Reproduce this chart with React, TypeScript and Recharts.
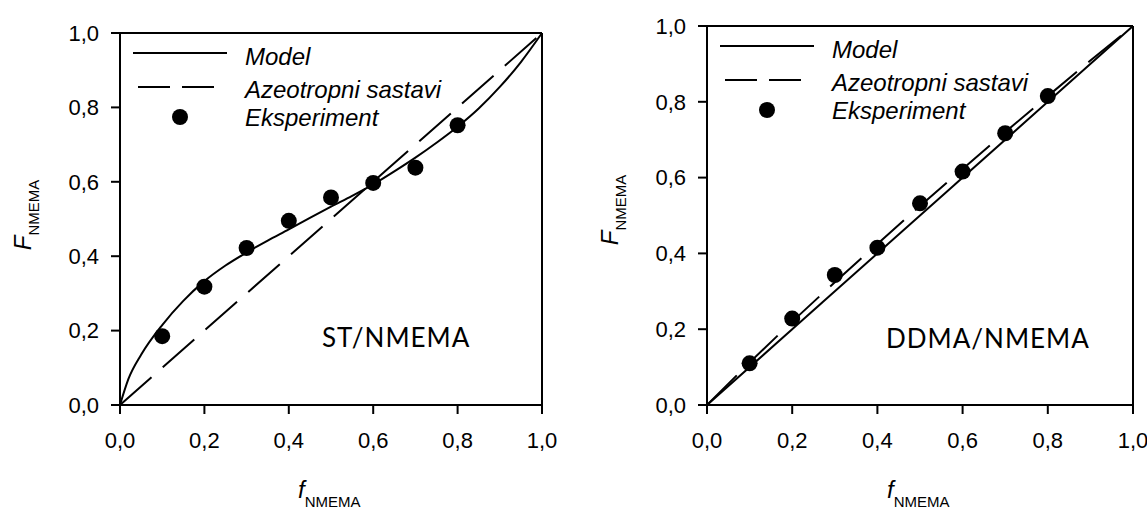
import { ComposedChart, Line, ReferenceLine, Scatter, XAxis, YAxis } from 'recharts'

const axisTicks = [0, 0.2, 0.4, 0.6, 0.8, 1]

// ST/NMEMA panel
const stExpX = [0.1, 0.2, 0.3, 0.4, 0.5, 0.6, 0.7, 0.8]
const stExpY = [0.185, 0.318, 0.422, 0.495, 0.558, 0.597, 0.638, 0.752]
const stModelX = [0, 0.02, 0.05, 0.1, 0.15, 0.2, 0.25, 0.3, 0.35, 0.4, 0.45, 0.5, 0.55, 0.6, 0.65, 0.7, 0.75, 0.8, 0.85, 0.9, 0.95, 1]
const stModelY = [0, 0.07, 0.135, 0.215, 0.28, 0.333, 0.375, 0.41, 0.442, 0.472, 0.503, 0.533, 0.562, 0.593, 0.628, 0.665, 0.705, 0.748, 0.797, 0.855, 0.922, 1]
const stAzeoX = [0, 1]
const stAzeoY = [0, 1]

// DDMA/NMEMA panel
const ddExpX = [0.1, 0.2, 0.3, 0.4, 0.5, 0.6, 0.7, 0.8]
const ddExpY = [0.11, 0.228, 0.343, 0.415, 0.532, 0.616, 0.717, 0.815]
const ddModelX = [0, 0.5, 1]
const ddModelY = [0, 0.5, 1]
const ddAzeoX = [0, 0.1, 0.2, 0.3, 0.4, 0.5, 0.6, 0.7, 0.8, 0.9, 1]
const ddAzeoY = [0, 0.112, 0.22, 0.324, 0.425, 0.525, 0.623, 0.72, 0.815, 0.909, 1]

const legendLabels = ['Model', 'Azeotropni sastavi', 'Eksperiment']

const zip = (xs: number[], ys: number[]) => xs.map((x, i) => ({ x, y: ys[i] }))
const fmt = (v: number) => v.toFixed(1).replace('.', ',')

const tickStyle = { fill: '#000', fontSize: 22, fontFamily: 'Liberation Sans, Arial, sans-serif' }

type PanelProps = {
  left: number
  width: number
  top: number
  right: number
  yAxisWidth: number
  model: { x: number; y: number }[]
  azeo: { x: number; y: number }[]
  exp: { x: number; y: number }[]
}

function Panel({ left, width, top, right, yAxisWidth, model, azeo, exp }: PanelProps) {
  return (
    <div style={{ position: 'absolute', left, top: 0, width, height: 509 }}>
      <ComposedChart width={width} height={509} margin={{ top, right, left: 0, bottom: 74 }}>
        <XAxis
          dataKey="x"
          type="number"
          domain={[0, 1]}
          ticks={axisTicks}
          tickFormatter={fmt}
          height={30}
          tickSize={9}
          tickMargin={18}
          tick={tickStyle}
          axisLine={{ stroke: '#000', strokeWidth: 2 }}
          tickLine={{ stroke: '#000', strokeWidth: 2 }}
        />
        <YAxis
          dataKey="y"
          type="number"
          domain={[0, 1]}
          ticks={axisTicks}
          tickFormatter={fmt}
          width={yAxisWidth}
          tickSize={9}
          tickMargin={12}
          tick={tickStyle}
          axisLine={{ stroke: '#000', strokeWidth: 2 }}
          tickLine={{ stroke: '#000', strokeWidth: 2 }}
        />
        <ReferenceLine y={1} stroke="#000" strokeWidth={2} />
        <ReferenceLine x={1} stroke="#000" strokeWidth={2} />
        <Line data={azeo} dataKey="y" type="linear" stroke="#000" strokeWidth={2} strokeDasharray="42 15" dot={false} isAnimationActive={false} />
        <Line data={model} dataKey="y" type="monotone" stroke="#000" strokeWidth={2} dot={false} isAnimationActive={false} />
        <Scatter
          data={exp}
          dataKey="y"
          fill="#000"
          isAnimationActive={false}
          shape={(p: any) => <circle cx={p.cx} cy={p.cy} r={8} fill="#000" />}
        />
      </ComposedChart>
    </div>
  )
}

function Legend({ x0, y0 }: { x0: number; y0: number }) {
  // x0: plot left, y0: plot top
  const text = { fontFamily: 'Liberation Sans, Arial, sans-serif', fontSize: 24, fontStyle: 'italic' as const, fill: '#000' }
  return (
    <g>
      <line x1={x0 + 13} x2={x0 + 107} y1={y0 + 20} y2={y0 + 20} stroke="#000" strokeWidth={2} />
      <text x={x0 + 125} y={y0 + 32} {...text}>{legendLabels[0]}</text>
      <line x1={x0 + 18} x2={x0 + 95} y1={y0 + 54} y2={y0 + 54} stroke="#000" strokeWidth={2} strokeDasharray="32 12" />
      <text x={x0 + 125} y={y0 + 65} {...text}>{legendLabels[1]}</text>
      <circle cx={x0 + 60} cy={y0 + 84} r={8} fill="#000" />
      <text x={x0 + 125} y={y0 + 93} {...text}>{legendLabels[2]}</text>
    </g>
  )
}

function AxisTitles({ x0, x1, cy }: { x0: number; x1: number; cy: number }) {
  const font = 'Liberation Sans, Arial, sans-serif'
  const cx = (x0 + x1) / 2
  return (
    <g fill="#000" fontFamily={font}>
      <text x={cx - 33} y={498}>
        <tspan fontStyle="italic" fontSize={24}>f</tspan>
        <tspan fontSize={15} dy={9}>NMEMA</tspan>
      </text>
      <text transform={`translate(${x0 - 89},${cy}) rotate(-90)`} textAnchor="middle">
        <tspan fontStyle="italic" fontSize={24}>F</tspan>
        <tspan fontSize={15} dy={8}>NMEMA</tspan>
      </text>
    </g>
  )
}

export default function App() {
  const noteStyle = { fontFamily: 'Lato, "Open Sans", sans-serif', fontSize: 26, letterSpacing: 1, fill: '#000' }
  return (
    <div style={{ position: 'absolute', left: 0, top: 0, width: 1147, height: 509, background: '#fff' }}>
      <Panel left={0} width={560} top={33} right={18} yAxisWidth={120} model={zip(stModelX, stModelY)} azeo={zip(stAzeoX, stAzeoY)} exp={zip(stExpX, stExpY)} />
      <Panel left={590} width={557} top={26} right={14} yAxisWidth={117} model={zip(ddModelX, ddModelY)} azeo={zip(ddAzeoX, ddAzeoY)} exp={zip(ddExpX, ddExpY)} />
      <svg width={1147} height={509} style={{ position: 'absolute', left: 0, top: 0, pointerEvents: 'none' }}>
        <Legend x0={120} y0={33} />
        <Legend x0={707} y0={26} />
        <AxisTitles x0={120} x1={542} cy={215} />
        <AxisTitles x0={707} x1={1133} cy={210} />
        <text x={322} y={347} {...noteStyle}>ST/NMEMA</text>
        <text x={886} y={348} {...noteStyle}>DDMA/NMEMA</text>
      </svg>
    </div>
  )
}
